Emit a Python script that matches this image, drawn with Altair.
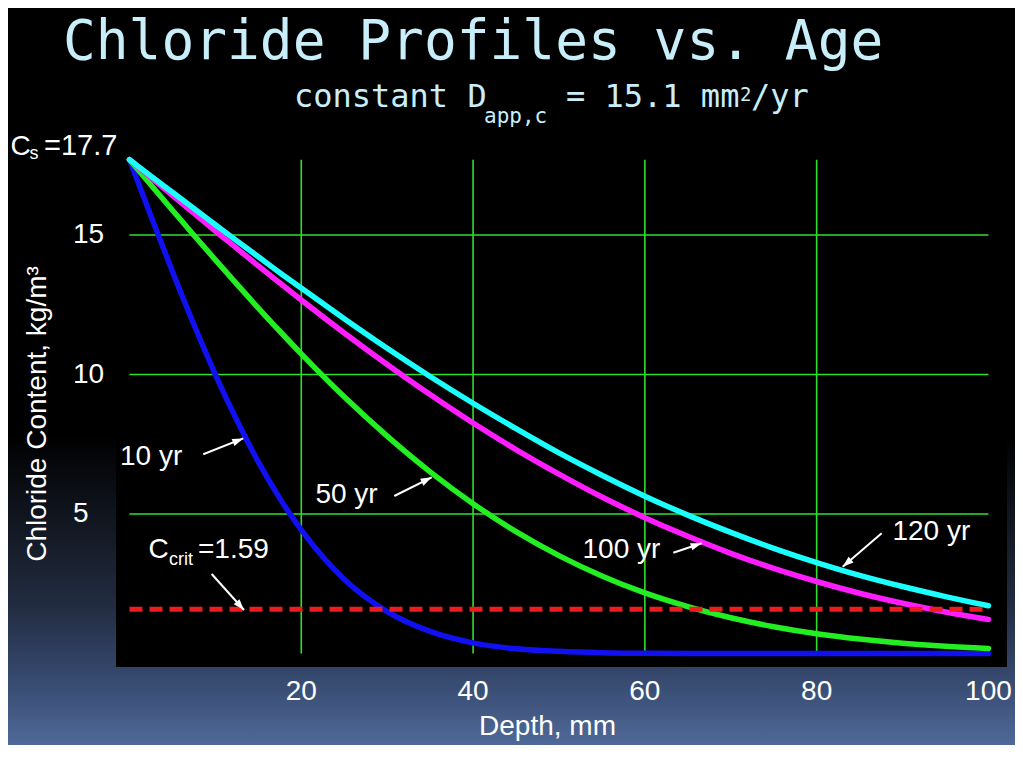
import math
import altair as alt
import pandas as pd

# ---------------- data ----------------
DEPTH = [0, 2.5, 5, 7.5, 10, 12.5, 15, 17.5, 20, 25, 30, 35, 40, 45, 50,
         55, 60, 65, 70, 75, 80, 85, 90, 95, 100]
C10 = [17.70, 15.68, 13.69, 11.79, 10.00, 8.36, 6.87, 5.56, 4.43, 2.66, 1.50,
       0.79, 0.38, 0.17, 0.08, 0.03, 0.01, 0.0, 0.0, 0.0, 0.0, 0.0, 0.0, 0.0, 0.0]
C50 = [17.70, 16.79, 15.89, 14.99, 14.11, 13.24, 12.38, 11.55, 10.74, 9.20, 7.79,
       6.51, 5.37, 4.37, 3.51, 2.78, 2.17, 1.68, 1.28, 0.96, 0.71, 0.52, 0.37, 0.26, 0.18]
C100 = [17.70, 17.06, 16.42, 15.78, 15.14, 14.52, 13.89, 13.28, 12.67, 11.49, 10.36,
        9.28, 8.26, 7.31, 6.43, 5.61, 4.87, 4.20, 3.59, 3.05, 2.58, 2.16, 1.80, 1.49, 1.22]
C120 = [17.70, 17.11, 16.53, 15.95, 15.37, 14.79, 14.22, 13.65, 13.10, 12.00, 10.94,
        9.93, 8.97, 8.06, 7.19, 6.39, 5.64, 4.96, 4.34, 3.77, 3.26, 2.80, 2.40, 2.04, 1.71]
SERIES = ["10 yr", "50 yr", "100 yr", "120 yr"]
SERIES_VALUES = [C10, C50, C100, C120]
COLORS = ["#1010f0", "#22ee22", "#ff1cff", "#1cffff"]

CS = 17.7
CCRIT = 1.59
X_TICKS = [20, 40, 60, 80, 100]
X_GRID = [20, 40, 60, 80]
Y_TICKS = [15, 10, 5]

# annotation anchors (data units)
LABEL_TEXT = ["10 yr", "50 yr", "100 yr", "120 yr"]
LABEL_X = [-1.1, 21.65, 52.74, 88.82]
LABEL_Y = [6.76, 5.40, 3.41, 4.07]
ARROW_TAIL_X = [8.59, 30.83, 9.57, 63.31, 87.57]
ARROW_TAIL_Y = [7.14, 5.645, 2.85, 3.613, 4.308]
ARROW_HEAD_X = [13.25, 35.18, 13.33, 66.61, 83.03]
ARROW_HEAD_Y = [7.71, 6.315, 1.56, 3.95, 3.111]
CRIT_LABEL_X = 2.21
CRIT_LABEL_Y = 3.42

# ---------------- layout ----------------
W, H = 891, 522
XD = [-1.57, 102.16]
YD = [-0.484, 18.226]
xs = alt.Scale(domain=XD, nice=False, zero=False)
ys = alt.Scale(domain=YD, nice=False, zero=False)
PXX = W / (XD[1] - XD[0])
PXY = H / (YD[1] - YD[0])

SANS = "Liberation Sans"
MONO = "DejaVu Sans Mono"
TITLE_COLOR = "#c8eff9"
GRID = "#2ee02e"
PAD_B = 78

one = pd.DataFrame({"k": [0]})


def X(f):
    return alt.X(f, type="quantitative", scale=xs, axis=None)


def Y(f):
    return alt.Y(f, type="quantitative", scale=ys, axis=None)


def ptext(text, x, y, size, font=SANS, color="white", align="left",
          baseline="alphabetic", angle=0):
    kw = dict(text=text, font=font, fontSize=size, color=color, align=align,
              baseline=baseline)
    if angle:
        kw["angle"] = angle
    return alt.Chart(one).mark_text(**kw).encode(x=alt.value(x), y=alt.value(y))


layers = []

# page background gradient
bg = alt.Chart(one).mark_rect(
    color=alt.Gradient(
        gradient="linear",
        stops=[
            alt.GradientStop(color="#000000", offset=0),
            alt.GradientStop(color="#000000", offset=0.58),
            alt.GradientStop(color="#222c40", offset=0.81),
            alt.GradientStop(color="#34466a", offset=0.9),
            alt.GradientStop(color="#4f6998", offset=1),
        ],
        x1=0, x2=0, y1=0, y2=1,
    )
).encode(x=alt.value(-108), x2=alt.value(W + 8), y=alt.value(-137), y2=alt.value(H + PAD_B))
layers.append(bg)

# plot area
layers.append(alt.Chart(one).mark_rect(color="#000000").encode(
    x=alt.value(0), x2=alt.value(W), y=alt.value(0), y2=alt.value(H)))

# grid
vg = pd.DataFrame({"x": X_GRID, "y0": [0] * len(X_GRID), "y1": [CS] * len(X_GRID)})
layers.append(alt.Chart(vg).mark_rule(color=GRID, strokeWidth=1.6).encode(
    x=X("x"), y=Y("y0"), y2="y1"))
hg = pd.DataFrame({"y": Y_TICKS, "x0": [0] * len(Y_TICKS), "x1": [100] * len(Y_TICKS)})
layers.append(alt.Chart(hg).mark_rule(color=GRID, strokeWidth=1.6).encode(
    y=Y("y"), x=X("x0"), x2="x1"))

# curves
rows = []
for s, vals in zip(SERIES, SERIES_VALUES):
    for d, v in zip(DEPTH, vals):
        rows.append({"depth": d, "c": v, "series": s})
df = pd.DataFrame(rows)
for s, col in zip(SERIES, COLORS):
    layers.append(
        alt.Chart(df).transform_filter(alt.datum.series == s)
        .mark_line(color=col, strokeWidth=5.5, interpolate="monotone", strokeCap="round")
        .encode(x=X("depth"), y=Y("c"))
    )

# critical chloride line
crit = pd.DataFrame({"x0": [0], "x1": [100], "y": [CCRIT]})
layers.append(alt.Chart(crit).mark_rule(color="#ee1c1c", strokeWidth=5,
                                        strokeDash=[13, 7]).encode(
    x=X("x0"), x2="x1", y=Y("y")))

# arrows
ang = []
for tx, ty, hx, hy in zip(ARROW_TAIL_X, ARROW_TAIL_Y, ARROW_HEAD_X, ARROW_HEAD_Y):
    dx = (hx - tx) * PXX
    dy = -(hy - ty) * PXY
    ang.append(math.degrees(math.atan2(dx, -dy)) % 360)
arr = pd.DataFrame({"tx": ARROW_TAIL_X, "ty": ARROW_TAIL_Y,
                    "hx": ARROW_HEAD_X, "hy": ARROW_HEAD_Y, "ang": ang})
layers.append(alt.Chart(arr).mark_rule(color="white", strokeWidth=2).encode(
    x=X("tx"), y=Y("ty"), x2="hx", y2="hy"))
layers.append(alt.Chart(arr).mark_point(
    shape="M0,0L-0.55,1.6L0.55,1.6Z", filled=True, color="white", opacity=1,
    size=190, strokeWidth=0).encode(
    x=X("hx"), y=Y("hy"), angle=alt.Angle("ang:Q", scale=None)))

# curve labels
lab = pd.DataFrame({"t": LABEL_TEXT, "x": LABEL_X, "y": LABEL_Y})
layers.append(alt.Chart(lab).mark_text(font=SANS, fontSize=28, color="white",
                                       align="left", baseline="alphabetic").encode(
    x=X("x"), y=Y("y"), text="t:N"))

# C_crit label
cl = pd.DataFrame({"x": [CRIT_LABEL_X], "y": [CRIT_LABEL_Y]})
for txt, size, dx, dy in [("C", 28, 0, 0), ("crit", 18, 20.5, 7), ("=" + str(CCRIT), 28, 49.5, 0)]:
    layers.append(alt.Chart(cl).mark_text(text=txt, font=SANS, fontSize=size, color="white",
                                          align="left", baseline="alphabetic",
                                          dx=dx, dy=dy).encode(x=X("x"), y=Y("y")))

# C_s label (top of y axis)
layers.append(ptext("C", -105.5, 10, 28))
layers.append(ptext("s", -86.5, 14, 18))
layers.append(ptext("=" + str(CS), -72, 10, 29))

# y tick labels
yt = pd.DataFrame({"y": Y_TICKS, "t": [str(v) for v in Y_TICKS]})
layers.append(alt.Chart(yt).mark_text(font=SANS, fontSize=28, color="white",
                                      align="left", baseline="middle").encode(
    x=alt.value(-43), y=Y("y"), text="t:N"))

# x tick labels
xt = pd.DataFrame({"x": X_TICKS, "t": [str(v) for v in X_TICKS]})
layers.append(alt.Chart(xt).mark_text(font=SANS, fontSize=28, color="white",
                                      align="center", baseline="alphabetic").encode(
    x=X("x"), y=alt.value(555), text="t:N"))

# axis titles
layers.append(ptext("Depth, mm", 431.5, 590, 28, align="center"))
layers.append(ptext("Chloride Content, kg/m³", -78, 269, 28, align="center",
                    baseline="middle", angle=270))

# title and subtitle
layers.append(ptext("Chloride Profiles vs. Age", -53, -86, 54.5, font=MONO, color=TITLE_COLOR))
layers.append(ptext("constant D", 178, -38, 32, font=MONO, color=TITLE_COLOR))
layers.append(ptext("app,c", 368, -22, 21, font=MONO, color=TITLE_COLOR))
layers.append(ptext("= 15.1 mm", 450, -38, 32, font=MONO, color=TITLE_COLOR))
layers.append(ptext("2", 624, -44, 19, font=MONO, color=TITLE_COLOR))
layers.append(ptext("/yr", 635, -38, 32, font=MONO, color=TITLE_COLOR))

chart = alt.layer(*layers).properties(
    width=W, height=H,
    autosize=alt.AutoSizeParams(type="none"),
    padding={"left": 108, "top": 137, "right": 8, "bottom": PAD_B},
).configure(background="#000000").configure_view(stroke=None)

chart.save("out.html", embed_options={"renderer": "svg", "actions": False})
